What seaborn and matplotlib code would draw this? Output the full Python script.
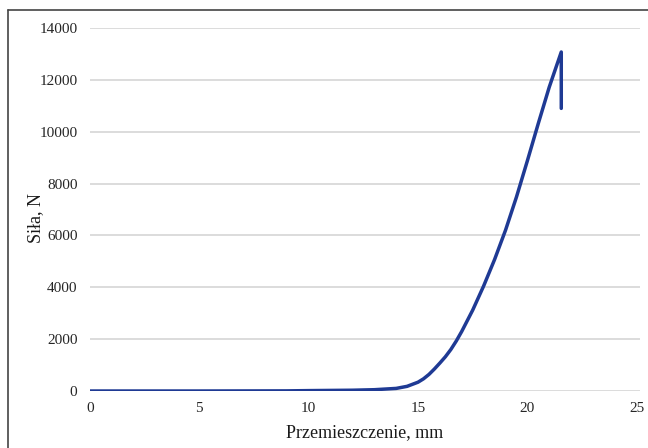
import matplotlib
matplotlib.use("Agg")
import matplotlib.pyplot as plt
import seaborn as sns
import pandas as pd
from matplotlib.lines import Line2D

displacement = [0, 5, 9, 10, 12, 13, 14, 14.5, 15, 15.25, 15.5, 15.75, 16, 16.25, 16.5,
                16.75, 17, 17.5, 18, 18.5, 19, 19.5, 20, 20.5, 21, 21.55, 21.55]
force = [0, 0, 5, 15, 30, 50, 100, 180, 340, 470, 640, 850, 1080, 1320, 1600,
         1930, 2300, 3120, 4050, 5070, 6200, 7480, 8880, 10320, 11720, 13075, 10900]

xticks = [0, 5, 10, 15, 20, 25]
yticks = [0, 2000, 4000, 6000, 8000, 10000, 12000, 14000]

df = pd.DataFrame({"x": displacement, "y": force})

sns.set_theme(style="white")
plt.rcParams['font.family'] = ['Liberation Serif', 'DejaVu Serif']

fig = plt.figure(figsize=(6.48, 4.48), dpi=100)
ax = fig.add_axes([90/648, 1-391/448, 550/648, (391-28)/448])

ax.set_ylim(0, 14000)
ax.set_xlim(0, 25.15)
ax.set_yticks(yticks)
ax.set_xticks(xticks)
ax.yaxis.grid(True, color="#d9d9d9", linewidth=1.3)
ax.set_axisbelow(True)

sns.lineplot(data=df, x="x", y="y", sort=False, estimator=None, color="#1f3a94",
             linewidth=2.5, ax=ax)

for s in ax.spines.values():
    s.set_visible(False)
ax.tick_params(axis="both", length=0, labelsize=11, colors="#262626", pad=8)
ax.tick_params(axis="y", pad=9)
ax.set_xlabel("Przemieszczenie, mm", fontsize=13, color="#1a1a1a")
ax.set_ylabel("Siła, N", fontsize=13, color="#1a1a1a")
ax.xaxis.set_label_coords(0.5, -0.09)
ax.yaxis.set_label_coords(-0.083, 0.477)

fig.add_artist(Line2D([8/648, 1.0], [1-10/448, 1-10/448], color="#444444", linewidth=1.2))
fig.add_artist(Line2D([8/648, 8/648], [0, 1-10/448], color="#444444", linewidth=1.2))

fig.savefig("out.png", dpi=100)
